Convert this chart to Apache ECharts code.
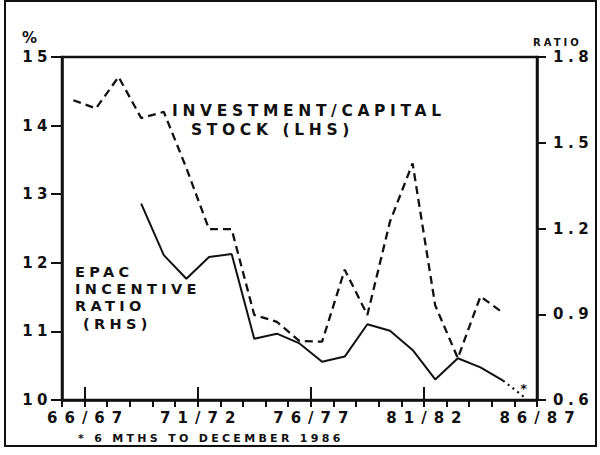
<!DOCTYPE html>
<html>
<head>
<meta charset="utf-8">
<script src="https://cdn.jsdelivr.net/npm/echarts@6/dist/echarts.min.js"></script>
<style>
html, body { margin: 0; padding: 0; background: #fff; }
#chart { width: 600px; height: 455px; }
#chart text { letter-spacing: 0.3em; }
</style>
</head>
<body>
<div id="chart"></div>
<script>
// Fiscal years (one point per year)
const years = ['66/67','67/68','68/69','69/70','70/71','71/72','72/73','73/74','74/75','75/76',
               '76/77','77/78','78/79','79/80','80/81','81/82','82/83','83/84','84/85','85/86','86/87'];
// Labelled ticks on the time axis
const tickLabels = ['66/67','71/72','76/77','81/82','86/87'];
// Investment / capital stock, % (LHS)
const investmentCapital = [14.37,14.25,14.71,14.11,14.20,13.38,12.49,12.49,11.24,11.14,
                           10.86,10.85,11.90,11.24,12.60,13.45,11.38,10.61,11.51,11.27,null];
// EPAC incentive ratio (RHS)
const epacRatio = [null,null,null,1.287,1.107,1.024,1.100,1.111,0.814,0.832,
                   0.798,0.734,0.752,0.865,0.842,0.775,0.672,0.746,0.714,0.668,null];
// EPAC incentive ratio, partial year (* 6 months to December 1986)
const epacRatioPartial = [null,null,null,null,null,null,null,null,null,null,
                          null,null,null,null,null,null,null,null,null,0.668,0.606];
// Axis ticks
const leftAxis = { min: 10, max: 15, interval: 1 };
const rightAxis = { min: 0.6, max: 1.8, interval: 0.3 };

// Year boundaries: boundary i closes fiscal year i-1; each year's point sits mid-year.
const boundaries = [''].concat(years);
const BLACK = '#111';
const FONT = 'DejaVu Sans';

function toPoints(arr) {
  const out = [];
  arr.forEach((v, i) => { if (v !== null) out.push([i + 0.5, v]); });
  return out;
}
const partialPts = toPoints(epacRatioPartial).map((p, i, a) =>
  i === a.length - 1
    ? { value: p, symbol: 'circle', symbolSize: 0.5,
        label: { show: true, position: 'top', distance: 3, formatter: '*',
        color: BLACK, fontFamily: FONT, fontWeight: 'bold', fontSize: 13 } }
    : { value: p, symbol: 'none' });

// Tall tick marks at the labelled years (the right axis already stands at the last one)
const tallTicks = tickLabels.slice(0, -1).map(l => {
  const i = boundaries.indexOf(l);
  return [{ coord: [i, leftAxis.min] }, { coord: [i, leftAxis.min + 0.19] }];
});

const chart = echarts.init(document.getElementById('chart'), null, { renderer: 'svg' });
const labelFont = { color: BLACK, fontFamily: FONT, fontWeight: 'bold', fontSize: 15, lineHeight: 13 };

chart.setOption({
  animation: false,
  backgroundColor: '#fff',
  grid: { left: 62, right: 63, top: 57, bottom: 55, show: true,
          borderColor: BLACK, borderWidth: 2.5, backgroundColor: 'transparent' },
  xAxis: [
    { type: 'value', min: 0, max: boundaries.length - 1, interval: 1, position: 'bottom',
      axisLine: { show: true, onZero: false, lineStyle: { color: BLACK, width: 2.5 } },
      axisTick: { show: true, length: 7, lineStyle: { color: BLACK, width: 2 } },
      axisLabel: Object.assign({ margin: 11, showMinLabel: true, showMaxLabel: true,
        formatter: v => tickLabels.includes(boundaries[v]) ? boundaries[v] : '' }, labelFont),
      splitLine: { show: false } }
  ],
  yAxis: [
    { type: 'value', position: 'left', min: leftAxis.min, max: leftAxis.max, interval: leftAxis.interval,
      axisLine: { show: true, onZero: false, lineStyle: { color: BLACK, width: 2.5 } },
      axisTick: { show: true, length: 11, lineStyle: { color: BLACK, width: 2 } },
      axisLabel: Object.assign({ margin: 10 }, labelFont),
      splitLine: { show: false } },
    { type: 'value', position: 'right', min: rightAxis.min, max: rightAxis.max, interval: rightAxis.interval,
      axisLine: { show: true, onZero: false, lineStyle: { color: BLACK, width: 2.5 } },
      axisTick: { show: true, length: 9, lineStyle: { color: BLACK, width: 2 } },
      axisLabel: Object.assign({ margin: 16, formatter: v => v.toFixed(1) }, labelFont),
      splitLine: { show: false } }
  ],
  series: [
    { name: 'Investment/capital stock (LHS)', type: 'line', xAxisIndex: 0, yAxisIndex: 0,
      data: toPoints(investmentCapital), symbol: 'none',
      lineStyle: { color: BLACK, width: 2.3, type: [8, 5] },
      markLine: { silent: true, symbol: 'none', label: { show: false },
        lineStyle: { color: BLACK, width: 2, type: 'solid' }, data: tallTicks } },
    { name: 'EPAC incentive ratio (RHS)', type: 'line', xAxisIndex: 0, yAxisIndex: 1,
      data: toPoints(epacRatio), symbol: 'none',
      lineStyle: { color: BLACK, width: 2 } },
    { name: 'EPAC incentive ratio, 6 months', type: 'line', xAxisIndex: 0, yAxisIndex: 1,
      data: partialPts, symbol: 'circle', showSymbol: true, itemStyle: { color: BLACK },
      lineStyle: { color: BLACK, width: 2.2, type: [2, 4] } }
  ],
  graphic: [
    { type: 'rect', shape: { x: 5, y: 1, width: 591, height: 445 },
      style: { fill: 'none', stroke: BLACK, lineWidth: 2 }, silent: true },
    { type: 'text', x: 22, y: 38, style: { text: '%', fill: BLACK, font: 'bold 15px "DejaVu Sans"', align: 'left', verticalAlign: 'middle' } },
    { type: 'text', x: 533, y: 42, style: { text: 'RATIO', fill: BLACK, font: 'bold 10px "DejaVu Sans"', align: 'left', verticalAlign: 'middle' } },
    { type: 'text', x: 172, y: 111, style: { text: 'INVESTMENT/CAPITAL', fill: BLACK, font: 'bold 15.5px "DejaVu Sans"', align: 'left', verticalAlign: 'middle' } },
    { type: 'text', x: 191, y: 130, style: { text: 'STOCK (LHS)', fill: BLACK, font: 'bold 15.5px "DejaVu Sans"', align: 'left', verticalAlign: 'middle' } },
    { type: 'text', x: 75, y: 272, style: { text: 'EPAC', fill: BLACK, font: 'bold 14.5px "DejaVu Sans"', align: 'left', verticalAlign: 'middle' } },
    { type: 'text', x: 75, y: 289, style: { text: 'INCENTIVE', fill: BLACK, font: 'bold 14.5px "DejaVu Sans"', align: 'left', verticalAlign: 'middle' } },
    { type: 'text', x: 75, y: 306, style: { text: 'RATIO', fill: BLACK, font: 'bold 14.5px "DejaVu Sans"', align: 'left', verticalAlign: 'middle' } },
    { type: 'text', x: 83, y: 324, style: { text: '(RHS)', fill: BLACK, font: 'bold 14.5px "DejaVu Sans"', align: 'left', verticalAlign: 'middle' } },
    { type: 'text', x: 78, y: 438, style: { text: '* 6 MTHS TO DECEMBER 1986', fill: BLACK, font: 'bold 11px "DejaVu Sans"', align: 'left', verticalAlign: 'middle' } }
  ]
});

// Wider letter spacing for the year labels, as in the original typesetting
function spaceYearLabels() {
  document.querySelectorAll('#chart text').forEach(t => {
    if (/^\d\d\/\d\d$/.test(t.textContent)) {
      t.style.letterSpacing = '7px';
      t.setAttribute('dx', '3.5');
    }
  });
}
spaceYearLabels();
chart.on('finished', spaceYearLabels);
setTimeout(spaceYearLabels, 30);
</script>
</body>
</html>
